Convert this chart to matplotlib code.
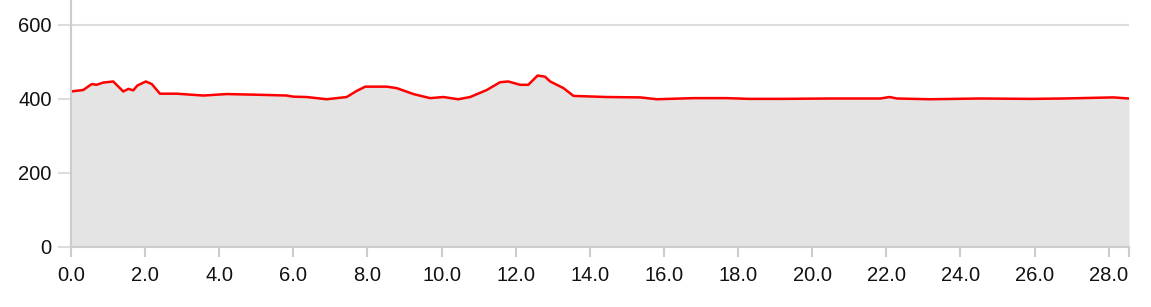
import matplotlib
matplotlib.use('Agg')
import matplotlib.pyplot as plt
import numpy as np

plt.rcParams['font.family'] = ['Liberation Sans', 'DejaVu Sans']

# distance (x) and elevation (y) read from the profile
distance = [0.0, 0.33, 0.56, 0.69, 0.87, 1.14, 1.41, 1.55, 1.68, 1.79, 2.02, 2.18,
            2.40, 2.85, 3.57, 4.2, 5.1, 5.82, 6.0, 6.36, 6.72, 6.9, 7.44, 7.7, 7.94,
            8.52, 8.79, 9.24, 9.69, 10.05, 10.45, 10.77, 11.22, 11.58, 11.8, 12.12,
            12.34, 12.59, 12.79, 12.93, 13.29, 13.56, 14.46, 15.36, 15.81, 16.8,
            17.7, 18.3, 19.14, 20.5, 21.84, 22.09, 22.29, 23.18, 24.53, 25.9,
            26.78, 28.13, 28.55]
elevation = [420, 424, 440, 438, 444, 447, 420, 427, 423, 436, 447, 440,
             414, 414, 409, 413, 411, 409, 406, 405, 401, 399, 405, 421, 433,
             433, 429, 413, 402, 405, 399, 405, 424, 445, 447, 438,
             438, 463, 460, 447, 429, 408, 405, 404, 399, 402,
             402, 400, 400, 401, 401, 405, 401, 399, 401, 400,
             401, 404, 401]

x_ticks = np.arange(0, 29, 2)
y_ticks = [0, 200, 400, 600]

fig = plt.figure(figsize=(11.51, 3.07), dpi=100)
ax = fig.add_axes([71 / 1151, 60 / 307, 1058 / 1151, 247 / 307])

ax.fill_between(distance, elevation, 0, color='#e4e4e4', lw=0, zorder=2)
ax.plot(distance, elevation, color='#ff0000', lw=1.8, zorder=3)

ax.set_xlim(0, 28.55)
ax.set_ylim(0, 667)

ax.set_xticks(x_ticks)
ax.set_xticklabels([f'{t:.1f}' for t in x_ticks])
ax.set_xticks([28.55], minor=True)
ax.set_yticks(y_ticks)

ax.grid(axis='y', color='#dddddd', lw=1.5)
ax.set_axisbelow(True)

for s in ['top', 'right']:
    ax.spines[s].set_visible(False)
for s in ['left', 'bottom']:
    ax.spines[s].set_color('#cccccc')
    ax.spines[s].set_linewidth(1.5)
    ax.spines[s].set_zorder(4)

ax.tick_params(axis='x', which='both', length=7.5, width=1.5, color='#cccccc',
               labelsize=14.5, labelcolor='#111111', pad=6.5)
ax.tick_params(axis='y', length=9.4, width=1.5, color='#dddddd',
               labelsize=14.5, labelcolor='#111111', pad=4.5)

fig.savefig('out.png', dpi=100)
